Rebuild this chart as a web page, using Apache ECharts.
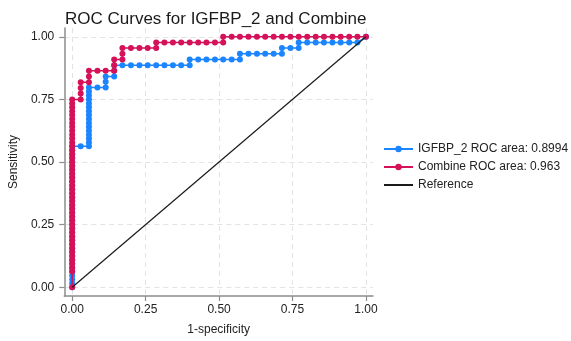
<!DOCTYPE html>
<html>
<head>
<meta charset="utf-8">
<script src="https://cdn.jsdelivr.net/npm/echarts@6/dist/echarts.min.js"></script>
<style>html,body{margin:0;padding:0;background:#fff;}#c{width:571px;height:341px;}</style>
</head>
<body>
<div id="c"></div>
<script>
const titleText = "ROC Curves for IGFBP_2 and Combine";
const seriesNames = ["IGFBP_2 ROC area: 0.8994", "Combine ROC area: 0.963", "Reference"];
const tickValues = [0, 0.25, 0.5, 0.75, 1];

// IGFBP_2 ROC points: 1-specificity, sensitivity
const igfbpX = [0,0,0,0,0,0,0,0,0,0,0,0,0,0,0,0,0,0,0,0,0,0,0,0,0,0,0,0,0,0,0,0,0,0,0,0,0,
  0.029,0.057,0.057,0.057,0.057,0.057,0.057,0.057,0.057,0.057,0.057,0.057,0.057,0.057,0.057,0.057,0.057,
  0.086,0.114,0.114,0.114,0.143,0.143,0.143,
  0.171,0.2,0.229,0.257,0.286,0.314,0.343,0.371,0.4,0.4,
  0.429,0.457,0.486,0.514,0.543,0.571,0.571,
  0.6,0.629,0.657,0.686,0.714,0.714,0.743,0.771,0.771,
  0.8,0.829,0.857,0.886,0.914,0.943,0.971,1];
const igfbpY = [0,0.016,0.031,0.047,0.063,0.078,0.094,0.109,0.125,0.141,0.156,0.172,0.188,0.203,0.219,0.234,0.25,0.266,0.281,0.297,0.313,0.328,0.344,0.359,0.375,0.391,0.406,0.422,0.438,0.453,0.469,0.484,0.5,0.516,0.531,0.547,0.563,
  0.563,0.563,0.578,0.594,0.609,0.625,0.641,0.656,0.672,0.688,0.703,0.719,0.734,0.75,0.766,0.781,0.797,
  0.797,0.797,0.82,0.841,0.841,0.864,0.886,
  0.886,0.886,0.886,0.886,0.886,0.886,0.886,0.886,0.886,0.909,
  0.909,0.909,0.909,0.909,0.909,0.909,0.932,
  0.932,0.932,0.932,0.932,0.932,0.955,0.955,0.955,0.977,
  0.977,0.977,0.977,0.977,0.977,0.977,0.977,1];

// Combine ROC points
const combineX = [0,0,0,0,0,0,0,0,0,0,0,0,0,0,0,0,0,0,0,0,0,0,0,0,0,0,0,0,0,0,0,0,0,0,0,0,0,0,0,0,0,0,0,0,0,0,
  0.029,0.029,0.029,0.029,0.057,0.057,0.057,0.086,0.114,0.143,0.143,0.143,0.171,0.171,0.171,
  0.2,0.229,0.257,0.286,0.286,0.314,0.343,0.371,0.4,0.429,0.457,0.486,0.514,0.514,
  0.543,0.571,0.6,0.629,0.657,0.686,0.714,0.743,0.771,0.8,0.829,0.857,0.886,0.914,0.943,0.971,1];
const combineY = [0,0.063,0.078,0.094,0.109,0.125,0.141,0.156,0.172,0.188,0.203,0.219,0.234,0.25,0.266,0.281,0.297,0.313,0.328,0.344,0.359,0.375,0.391,0.406,0.422,0.438,0.453,0.469,0.484,0.5,0.516,0.531,0.547,0.563,0.578,0.594,0.609,0.625,0.641,0.656,0.672,0.688,0.703,0.719,0.734,0.75,
  0.75,0.773,0.795,0.818,0.818,0.841,0.864,0.864,0.864,0.864,0.886,0.909,0.909,0.932,0.955,
  0.955,0.955,0.955,0.955,0.977,0.977,0.977,0.977,0.977,0.977,0.977,0.977,0.977,1,
  1,1,1,1,1,1,1,1,1,1,1,1,1,1,1,1,1];

const refX = [0, 1];
const refY = [0, 1];

function pairs(xs, ys){ return xs.map((x,i)=>[x, ys[i]]); }

const chart = echarts.init(document.getElementById('c'), null, {renderer:'canvas'});
const axisGray = '#8c8c8c';
const fontFam = 'Liberation Sans, Arial, sans-serif';
chart.setOption({
  animation:false,
  backgroundColor:'#ffffff',
  title:{text:titleText, left:60, top:6, textStyle:{fontSize:17, fontWeight:'normal', color:'#1a1a1a', fontFamily:fontFam}},
  legend:{orient:'vertical', left:378, top:138, itemWidth:29, itemHeight:8, itemGap:6,
    textStyle:{fontSize:12, color:'#222', fontFamily:fontFam},
    data:[seriesNames[0], seriesNames[1], {name:seriesNames[2], itemStyle:{opacity:0}}]},
  grid:{left:62, top:28, right:198, bottom:39, containLabel:false},
  xAxis:{type:'value', min:-0.027, max:1.024,
    name:'1-specificity', nameLocation:'middle', nameGap:28,
    nameTextStyle:{fontSize:12, color:'#222', fontFamily:fontFam},
    axisLine:{show:true, onZero:false, lineStyle:{color:axisGray, width:1.5}},
    axisTick:{show:true, length:5, customValues:tickValues, lineStyle:{color:axisGray, width:1.2}},
    axisLabel:{customValues:tickValues, formatter:v=>v.toFixed(2), fontSize:12, color:'#222', margin:8, fontFamily:fontFam},
    splitLine:{show:true, lineStyle:{color:'#e3e3e3', type:[5,4], width:1}}},
  yAxis:{type:'value', min:-0.035, max:1.035,
    name:'Sensitivity', nameLocation:'middle', nameGap:39,
    nameTextStyle:{fontSize:12, color:'#222', fontFamily:fontFam},
    axisLine:{show:true, onZero:false, lineStyle:{color:axisGray, width:1.5}},
    axisTick:{show:true, length:5, customValues:tickValues, lineStyle:{color:axisGray, width:1.2}},
    axisLabel:{customValues:tickValues, formatter:v=>v.toFixed(2), fontSize:12, color:'#222', margin:10, fontFamily:fontFam},
    splitLine:{show:true, lineStyle:{color:'#e3e3e3', type:[5,4], width:1}}},
  series:[
    {name:seriesNames[0], type:'line', data:pairs(igfbpX, igfbpY), color:'#1a85ff',
      symbol:'circle', symbolSize:6, showAllSymbol:true, lineStyle:{width:1.5}, itemStyle:{color:'#1a85ff'}, z:2},
    {name:seriesNames[1], type:'line', data:pairs(combineX, combineY), color:'#d41159',
      symbol:'circle', symbolSize:6, showAllSymbol:true, lineStyle:{width:1.5}, itemStyle:{color:'#d41159'}, z:3},
    {name:seriesNames[2], type:'line', data:pairs(refX, refY), color:'#1a1a1a',
      symbol:'none', lineStyle:{width:1.2, color:'#1a1a1a'}, z:4}
  ]
});
</script>
</body>
</html>
